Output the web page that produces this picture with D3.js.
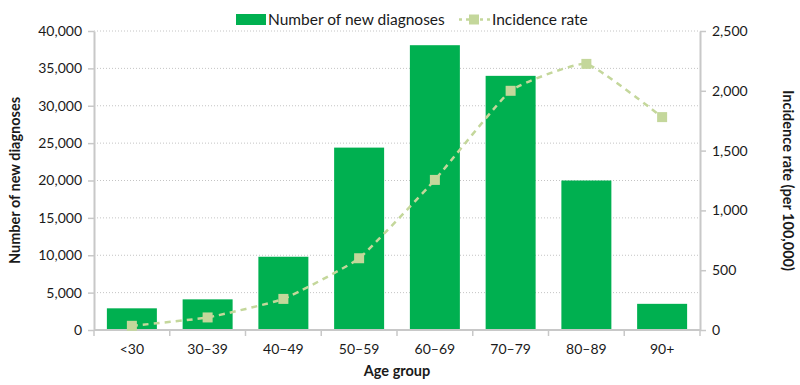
<!DOCTYPE html>
<meta charset="utf-8">
<body style="margin:0;background:#fff">
<script src="https://d3js.org/d3.v7.min.js"></script>
<div id="chart"></div>
<script>
// data
const ageGroups = ["<30", "30–39", "40–49", "50–59", "60–69", "70–79", "80–89", "90+"];
const newDiagnoses = [2900, 4100, 9800, 24400, 38100, 34000, 20000, 3500];
const incidenceRate = [35, 105, 260, 600, 1255, 2000, 2225, 1780];
const leftTicks = [0, 5000, 10000, 15000, 20000, 25000, 30000, 35000, 40000];
const rightTicks = [0, 500, 1000, 1500, 2000, 2500];

const width = 800, height = 385;
const margin = {top: 31, right: 100, bottom: 55, left: 94};
const font = "Lato, 'Noto Sans', sans-serif";

const svg = d3.select("#chart").append("svg")
    .attr("width", width)
    .attr("height", height)
    .style("font-family", font);

const x = d3.scaleBand()
    .domain(ageGroups)
    .range([margin.left, width - margin.right])
    .paddingInner(0.34)
    .paddingOuter(0.17);

const yL = d3.scaleLinear().domain([0, 40000]).range([height - margin.bottom, margin.top]);
const yR = d3.scaleLinear().domain([0, 2500]).range([height - margin.bottom, margin.top]);

// gridlines
svg.append("g")
    .selectAll("line")
    .data(leftTicks.slice(1))
    .join("line")
    .attr("x1", margin.left)
    .attr("x2", width - margin.right)
    .attr("y1", d => yL(d))
    .attr("y2", d => yL(d))
    .attr("stroke", "#c4c4c4")
    .attr("stroke-dasharray", "1,2");

// bars
svg.append("g")
    .selectAll("rect")
    .data(newDiagnoses)
    .join("rect")
    .attr("x", (d, i) => x(ageGroups[i]))
    .attr("y", d => yL(d))
    .attr("width", x.bandwidth())
    .attr("height", d => yL(0) - yL(d))
    .attr("fill", "#00b050");

// axes
const axisColor = "#c8c8c8";
function styleAxis(g) {
    g.selectAll(".domain").attr("stroke", axisColor).attr("stroke-width", 2);
    g.selectAll(".tick line").attr("stroke", axisColor).attr("stroke-width", 1.5);
    g.selectAll("text").attr("fill", "#1a1a1a").style("font-size", "14px").style("font-family", font);
}

svg.append("g")
    .attr("transform", `translate(${margin.left},0)`)
    .call(d3.axisLeft(yL).tickValues(leftTicks).tickFormat(d3.format(",")).tickSize(6).tickSizeOuter(0).tickPadding(6))
    .call(styleAxis);

svg.append("g")
    .attr("transform", `translate(${width - margin.right},0)`)
    .call(d3.axisRight(yR).tickValues(rightTicks).tickFormat(d3.format(",")).tickSize(6).tickSizeOuter(0).tickPadding(6))
    .call(styleAxis);

// bottom axis: ticks at band boundaries
const xAxis = svg.append("g")
    .attr("transform", `translate(0,${height - margin.bottom})`);
xAxis.append("line")
    .attr("x1", margin.left).attr("x2", width - margin.right)
    .attr("stroke", axisColor).attr("stroke-width", 2);
const step = x.step();
xAxis.selectAll("line.tk")
    .data(d3.range(ageGroups.length + 1))
    .join("line")
    .attr("class", "tk")
    .attr("x1", i => margin.left + i * step)
    .attr("x2", i => margin.left + i * step)
    .attr("y1", 0).attr("y2", 6)
    .attr("stroke", axisColor).attr("stroke-width", 1.5);
xAxis.selectAll("text")
    .data(ageGroups)
    .join("text")
    .attr("x", d => x(d) + x.bandwidth() / 2)
    .attr("y", 24)
    .attr("text-anchor", "middle")
    .attr("fill", "#1a1a1a")
    .style("font-size", "14px")
    .text(d => d);

// incidence line
const line = d3.line()
    .x((d, i) => x(ageGroups[i]) + x.bandwidth() / 2)
    .y(d => yR(d))
    .curve(d3.curveCardinal.tension(0.6));

svg.append("path")
    .datum(incidenceRate)
    .attr("d", line)
    .attr("fill", "none")
    .attr("stroke", "#c4d79b")
    .attr("stroke-width", 2.5)
    .attr("stroke-dasharray", "6,5");

svg.append("g")
    .selectAll("rect")
    .data(incidenceRate)
    .join("rect")
    .attr("x", (d, i) => x(ageGroups[i]) + x.bandwidth() / 2 - 5)
    .attr("y", d => yR(d) - 5)
    .attr("width", 10)
    .attr("height", 10)
    .attr("fill", "#c4d79b");

// axis titles
svg.append("text")
    .attr("transform", `translate(20,${(margin.top + height - margin.bottom) / 2}) rotate(-90)`)
    .attr("text-anchor", "middle")
    .style("font-size", "14.5px")
    .style("font-weight", "bold")
    .attr("fill", "#1a1a1a")
    .text("Number of new diagnoses");

svg.append("text")
    .attr("transform", `translate(783,${(margin.top + height - margin.bottom) / 2}) rotate(90)`)
    .attr("text-anchor", "middle")
    .style("font-size", "14.5px")
    .style("font-weight", "bold")
    .attr("fill", "#1a1a1a")
    .text("Incidence rate (per 100,000)");

svg.append("text")
    .attr("x", (margin.left + width - margin.right) / 2)
    .attr("y", 376)
    .attr("text-anchor", "middle")
    .style("font-size", "14.5px")
    .style("font-weight", "bold")
    .attr("fill", "#1a1a1a")
    .text("Age group");

// legend
const legend = svg.append("g");
legend.append("rect")
    .attr("x", 236).attr("y", 14).attr("width", 30).attr("height", 11)
    .attr("fill", "#00b050");
legend.append("text")
    .attr("x", 268).attr("y", 24.5)
    .style("font-size", "15.5px").attr("fill", "#1a1a1a")
    .text("Number of new diagnoses");
legend.append("line")
    .attr("x1", 459).attr("x2", 490).attr("y1", 19.5).attr("y2", 19.5)
    .attr("stroke", "#c4d79b").attr("stroke-width", 2.5).attr("stroke-dasharray", "3,4");
legend.append("rect")
    .attr("x", 469).attr("y", 14.5).attr("width", 10).attr("height", 10)
    .attr("fill", "#c4d79b");
legend.append("text")
    .attr("x", 492).attr("y", 24.5)
    .style("font-size", "15.5px").attr("fill", "#1a1a1a")
    .text("Incidence rate");
</script>
</body>
